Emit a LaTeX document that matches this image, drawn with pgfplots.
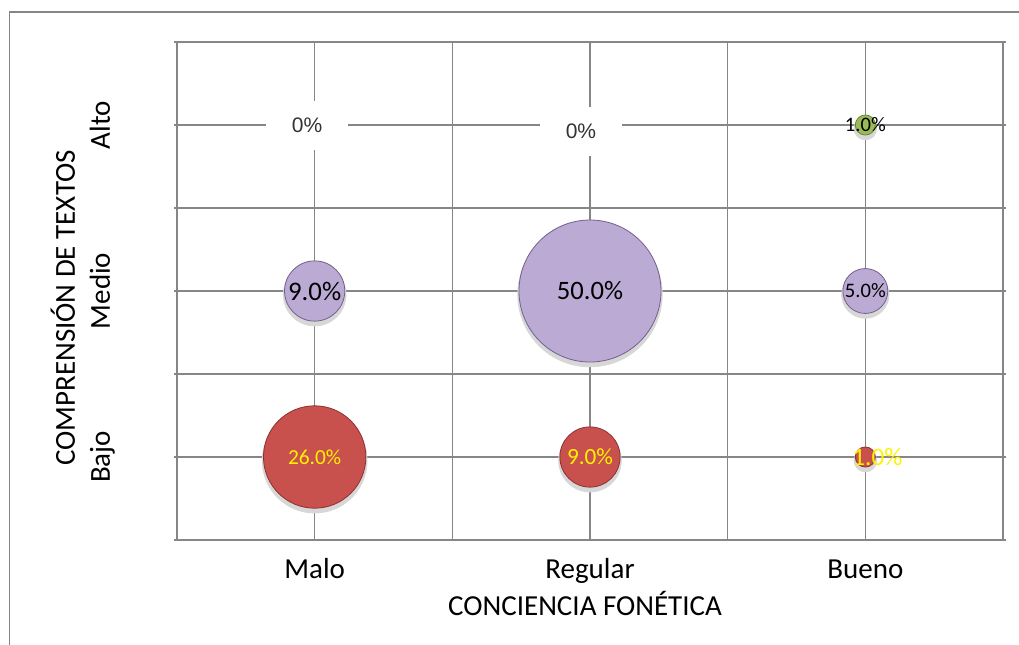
\documentclass[border=0pt]{standalone}
\usepackage{fontspec}
\setmainfont{Carlito}
\newfontfamily\zerofont{Liberation Sans}
\usepackage{pgfplots}
\usepackage{pgfplotstable}
\pgfplotsset{compat=1.18}

\definecolor{gridgray}{RGB}{134,134,134}
\definecolor{bajofill}{RGB}{200,80,77}
\definecolor{bajodraw}{RGB}{140,50,48}
\definecolor{mediofill}{RGB}{187,171,212}
\definecolor{mediodraw}{RGB}{115,95,140}
\definecolor{altofill}{RGB}{155,187,89}
\definecolor{altodraw}{RGB}{105,135,50}
\definecolor{shadowgray}{RGB}{215,215,215}

% x: 1 Malo, 2 Regular, 3 Bueno ; y: 1 Bajo, 2 Medio, 3 Alto ; v in %
\pgfplotstableread{
x y v fs dx
1 1 26 10.7 0
2 1 9 11.6 0
3 1 1 12.6 6
}\bajo
\pgfplotstableread{
x y v fs dx
1 2 9 13.4 0
2 2 50 13.3 0
3 2 5 10.3 0
}\medio
\pgfplotstableread{
x y v fs dx
3 3 1 10.3 0
}\alto
\pgfplotstableread{
x y dx dy
1 3 -3.75 0
2 3 -4.5 -3
}\ceros

\pgfplotsset{
  bubble/.style 2 args={
    only marks, mark=*, scatter,
    point meta=\thisrow{v},
    visualization depends on={5.0205*sqrt(\thisrow{v}) \as \rad},
    scatter/use mapped color={draw=#2, fill=#1},
    scatter/@pre marker code/.append style={/tikz/mark size=\rad pt, /tikz/line width=0.5pt},
  },
  shadow/.style={
    only marks, mark=*, scatter,
    point meta=\thisrow{v},
    visualization depends on={5.0205*sqrt(\thisrow{v}) \as \rad},
    scatter/use mapped color={draw=shadowgray, fill=shadowgray},
    scatter/@pre marker code/.append style={/tikz/mark size=\rad pt+0.6pt, /tikz/yshift=-1.8pt},
  },
  bubblelabel/.style={
    only marks, mark=none,
    point meta=\thisrow{v},
    visualization depends on={\thisrow{fs} \as \lblfs},
    visualization depends on={\thisrow{dx} \as \lbldx},
    nodes near coords={\pgfmathprintnumber[fixed,fixed zerofill,precision=1,assume math mode=true]{\pgfplotspointmeta}\%},
    nodes near coords style={anchor=center, text=#1, inner sep=0pt,
      xshift=\lbldx pt, font=\fontsize{\lblfs pt}{\lblfs pt}\selectfont},
  },
}

\begin{document}
\begin{tikzpicture}
\path[use as bounding box] (0,0) rectangle (509.5pt,322pt);
\draw[gridgray, line width=0.75pt] (4.75pt,-2pt) -- (4.75pt,316pt) -- (512pt,316pt);
\begin{axis}[
    at={(88.5pt,52pt)}, anchor=south west,
    scale only axis, width=413pt, height=249pt,
    xmin=0.5, xmax=3.5, ymin=0.5, ymax=3.5,
    xtick={0.5,1,1.5,2,2.5,3,3.5},
    xticklabels={,Malo,,Regular,,Bueno,},
    ytick={0.5,1,1.5,2,2.5,3,3.5},
    yticklabels={,Bajo,,Medio,,Alto,},
    grid=major,
    grid style={gridgray, line width=0.75pt},
    axis line style={gridgray, line width=0.75pt},
    tick align=outside,
    x tick style={draw=none},
    y tick style={gridgray, line width=0.75pt},
    major tick length=1.5pt,
    tick label style={font=\fontsize{14.5pt}{16pt}\selectfont, inner sep=0pt},
    xticklabel style={anchor=base, yshift=-17.5pt},
    yticklabel style={xshift=-32pt, rotate=90, anchor=base},
    xlabel={CONCIENCIA FONÉTICA},
    ylabel={COMPRENSIÓN DE TEXTOS},
    label style={font=\fontsize{14.5pt}{16pt}\selectfont, inner sep=0pt},
    xlabel style={at={(axis description cs:0.494,0)}, anchor=base, yshift=-37.5pt},
    ylabel style={at={(axis description cs:-0.1235,0.466)}, rotate=0, anchor=base},
    clip=false,
]
\addplot[only marks, mark=none,
    visualization depends on={\thisrow{dx} \as \zdx},
    visualization depends on={\thisrow{dy} \as \zdy},
    nodes near coords={0\%},
    nodes near coords style={anchor=center, fill=white, text=black!80,
      minimum width=41pt, minimum height=24.5pt, inner sep=0pt,
      xshift=\zdx pt, yshift=\zdy pt, font=\zerofont\fontsize{10.5pt}{12pt}\selectfont},
  ] table[x=x, y=y] {\ceros};
\addplot[shadow] table[x=x, y=y] {\bajo};
\addplot[shadow] table[x=x, y=y] {\medio};
\addplot[shadow] table[x=x, y=y] {\alto};
\addplot[bubble={bajofill}{bajodraw}] table[x=x, y=y] {\bajo};
\addplot[bubble={mediofill}{mediodraw}] table[x=x, y=y] {\medio};
\addplot[bubble={altofill}{altodraw}] table[x=x, y=y] {\alto};
\addplot[bubblelabel=yellow] table[x=x, y=y] {\bajo};
\addplot[bubblelabel=black] table[x=x, y=y] {\medio};
\addplot[bubblelabel=black] table[x=x, y=y] {\alto};
\end{axis}
\end{tikzpicture}
\end{document}
